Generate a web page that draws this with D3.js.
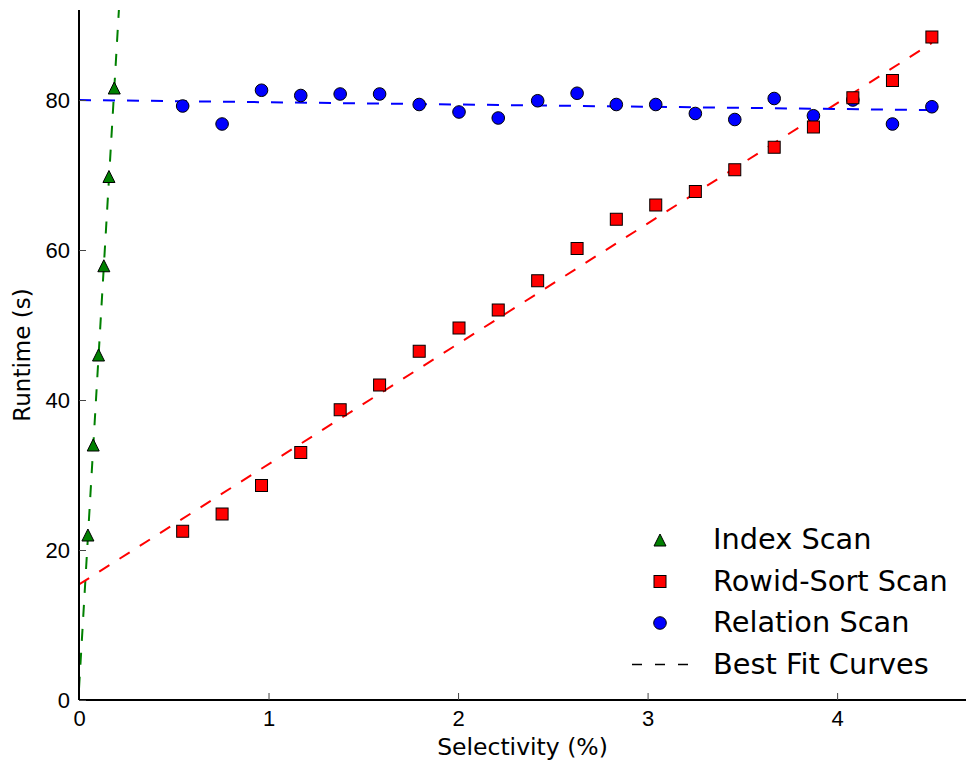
<!DOCTYPE html>
<html>
<head>
<meta charset="utf-8">
<script src="https://cdn.jsdelivr.net/npm/d3@7"></script>
<style>
  body { margin: 0; background: #fff; }
  svg { display: block; font-family: "DejaVu Sans", sans-serif; }
</style>
</head>
<body>
<script>
// data
var indexX = [0.047, 0.075, 0.103, 0.131, 0.158, 0.186];
var indexRuntime = [22.0, 34.0, 46.0, 57.9, 69.8, 81.6];

var scanX = [0.547, 0.755, 0.963, 1.170, 1.378, 1.586, 1.795, 2.005, 2.212, 2.420,
             2.628, 2.835, 3.043, 3.252, 3.460, 3.668, 3.875, 4.083, 4.292, 4.500];
var rowidRuntime = [22.5, 24.8, 28.6, 33.0, 38.7, 42.0, 46.5, 49.6, 52.0, 55.9,
                    60.2, 64.1, 66.0, 67.8, 70.7, 73.7, 76.4, 80.3, 82.6, 88.4];
var relationRuntime = [79.2, 76.8, 81.3, 80.6, 80.8, 80.8, 79.4, 78.4, 77.6, 79.9,
                       80.9, 79.4, 79.4, 78.2, 77.4, 80.2, 77.9, 80.0, 76.8, 79.1];

// best fit line end points [x, runtime]
var fitIndex = [[0, 1.5], [0.23, 100.4]];
var fitRowid = [[0, 15.4], [4.5, 87.6]];
var fitRelation = [[0, 80.0], [4.5, 78.65]];

var xTicks = [0, 1, 2, 3, 4];
var yTicks = [0, 20, 40, 60, 80];
var legendLabels = ["Index Scan", "Rowid-Sort Scan", "Relation Scan", "Best Fit Curves"];

var W = 966, H = 764;
var margin = {left: 79, right: 966, top: 10, bottom: 700};

var svg = d3.select("body").append("svg")
    .attr("width", W)
    .attr("height", H);

var x = d3.scaleLinear().domain([0, 4.68]).range([margin.left, margin.right]);
var y = d3.scaleLinear().domain([0, 92]).range([margin.bottom, margin.top]);

svg.append("clipPath").attr("id", "plot")
  .append("rect")
    .attr("x", margin.left).attr("y", margin.top)
    .attr("width", margin.right - margin.left).attr("height", margin.bottom - margin.top);

var plot = svg.append("g").attr("clip-path", "url(#plot)");

var line = d3.line()
    .x(function(d) { return x(d[0]); })
    .y(function(d) { return y(d[1]); });

var fits = [
  {pts: fitIndex, color: "#008000"},
  {pts: fitRowid, color: "#ff0000"},
  {pts: fitRelation, color: "#0000ff"}
];

plot.selectAll(".fit")
    .data(fits)
    .enter().append("path")
    .attr("class", "fit")
    .attr("d", function(d) { return line(d.pts); })
    .attr("fill", "none")
    .attr("stroke", function(d) { return d.color; })
    .attr("stroke-width", 2)
    .attr("stroke-dasharray", "12,12");

// relation scan circles
svg.append("g").selectAll("circle")
    .data(scanX)
    .enter().append("circle")
    .attr("cx", function(d) { return x(d); })
    .attr("cy", function(d, i) { return y(relationRuntime[i]); })
    .attr("r", 6.3)
    .attr("fill", "#0000ff")
    .attr("stroke", "#000")
    .attr("stroke-width", 1);

// rowid-sort squares
svg.append("g").selectAll("rect")
    .data(scanX)
    .enter().append("rect")
    .attr("x", function(d) { return x(d) - 6; })
    .attr("y", function(d, i) { return y(rowidRuntime[i]) - 6; })
    .attr("width", 12)
    .attr("height", 12)
    .attr("fill", "#ff0000")
    .attr("stroke", "#000")
    .attr("stroke-width", 1);

// index scan triangles
svg.append("g").selectAll("path")
    .data(indexX)
    .enter().append("path")
    .attr("d", "M0,-6L6,6L-6,6Z")
    .attr("transform", function(d, i) { return "translate(" + x(d) + "," + y(indexRuntime[i]) + ")"; })
    .attr("fill", "#008000")
    .attr("stroke", "#000")
    .attr("stroke-width", 1);

// axes (ticks point inward)
var xAxis = d3.axisBottom(x).tickValues(xTicks).tickSize(-7).tickPadding(10).tickFormat(d3.format("d"));
var yAxis = d3.axisLeft(y).tickValues(yTicks).tickSize(-7).tickPadding(9).tickFormat(d3.format("d"));

var gx = svg.append("g")
    .attr("transform", "translate(0," + margin.bottom + ")")
    .call(xAxis);
gx.select(".domain").attr("d", "M" + margin.left + ",0H" + margin.right).attr("stroke", "#000").attr("stroke-width", 2);
gx.selectAll(".tick line").attr("stroke", "#444");
gx.selectAll(".tick text").attr("font-size", 22).attr("fill", "#000").attr("dy", "0.71em");

var gy = svg.append("g")
    .attr("transform", "translate(" + margin.left + ",0)")
    .call(yAxis);
gy.select(".domain").attr("d", "M0," + margin.top + "V" + margin.bottom).attr("stroke", "#000").attr("stroke-width", 2);
gy.selectAll(".tick line").attr("stroke", "#444");
gy.selectAll(".tick text").attr("font-size", 22).attr("fill", "#000");

svg.append("text")
    .attr("x", (margin.left + margin.right) / 2)
    .attr("y", 755)
    .attr("text-anchor", "middle")
    .attr("font-size", 23.5)
    .text("Selectivity (%)");

svg.append("text")
    .attr("transform", "translate(30," + ((margin.top + margin.bottom) / 2) + ") rotate(-90)")
    .attr("text-anchor", "middle")
    .attr("font-size", 23)
    .text("Runtime (s)");

// legend
var legend = svg.append("g").attr("transform", "translate(660,540)");
var rowH = 41.5;

legend.append("path")
    .attr("d", "M0,-6L6,6L-6,6Z")
    .attr("fill", "#008000").attr("stroke", "#000");
legend.append("rect")
    .attr("x", -6).attr("y", rowH - 6).attr("width", 12).attr("height", 12)
    .attr("fill", "#ff0000").attr("stroke", "#000");
legend.append("circle")
    .attr("cx", 0).attr("cy", rowH * 2).attr("r", 6.3)
    .attr("fill", "#0000ff").attr("stroke", "#000");
legend.append("line")
    .attr("x1", -28).attr("x2", 28)
    .attr("y1", rowH * 3).attr("y2", rowH * 3)
    .attr("stroke", "#000").attr("stroke-width", 1.5)
    .attr("stroke-dasharray", "10,13");

legend.selectAll(".lbl")
    .data(legendLabels)
    .enter().append("text")
    .attr("class", "lbl")
    .attr("x", 53)
    .attr("y", function(d, i) { return i * rowH + 9; })
    .attr("font-size", 28.8)
    .text(function(d) { return d; });
</script>
</body>
</html>
